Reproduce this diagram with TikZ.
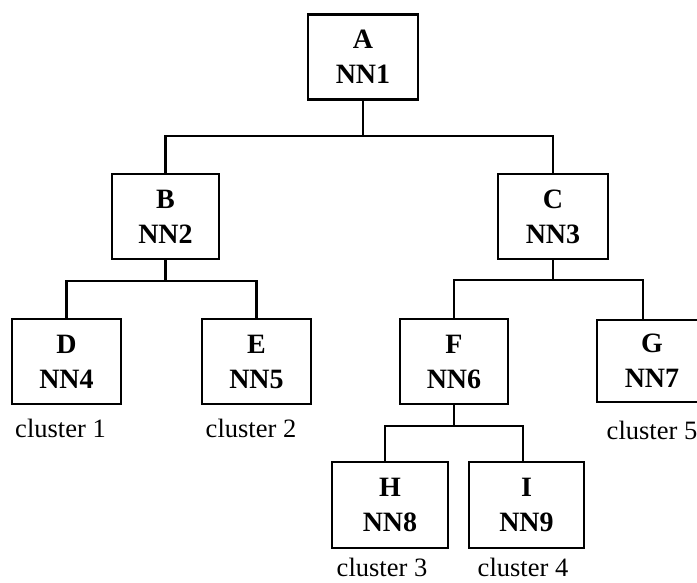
\documentclass[tikz,border=0pt]{standalone}
\usepackage{fontspec}
\setmainfont{Liberation Serif}
\begin{document}
\begin{tikzpicture}[x=1pt,y=1pt,
  nnbox/.style={draw=black, line width=2.4pt, minimum height=85pt, align=center,
    font=\bfseries\fontsize{28}{35}\selectfont, inner sep=0pt},
  clab/.style={font=\fontsize{26.5}{30}\selectfont, inner sep=0pt},
  conn/.style={line width=2.4pt}]
\clip (0,0) rectangle (697,583);
\fill[white] (0,0) rectangle (697,583);
% boxes (y = 583 - image y)
\node[nnbox, minimum width=110pt] (A) at (363,526) {A\\NN1};
\node[nnbox, minimum width=107pt] (B) at (165.5,366.5) {B\\NN2};
\node[nnbox, minimum width=110pt] (C) at (553,366.5) {C\\NN3};
\node[nnbox, minimum width=109pt] (D) at (66.5,221.5) {D\\NN4};
\node[nnbox, minimum width=109pt] (E) at (256.5,221.5) {E\\NN5};
\node[nnbox, minimum width=108pt] (F) at (454,221.5) {F\\NN6};
\node[nnbox, minimum width=110pt, minimum height=82pt] (G) at (652,222) {G\\NN7};
\node[nnbox, minimum width=116pt, minimum height=86pt] (H) at (390,78) {H\\NN8};
\node[nnbox, minimum width=115pt, minimum height=86pt] (I) at (526.5,78) {I\\NN9};
% cluster labels
\node[clab] (c1) at (60.5,155) {cluster 1};
\node[clab] (c2) at (251,155) {cluster 2};
\node[clab] (c5) at (652,153) {cluster 5};
\node[clab] (c3) at (382,15.5) {cluster 3};
\node[clab] (c4) at (523,15.5) {cluster 4};
% bar coordinates
\coordinate (barA) at (0,447);
\coordinate (barB) at (0,302);
\coordinate (barC) at (0,303);
\coordinate (barF) at (0,157);
% connectors
\draw[conn] (A.south) -- (A.south |- barA);
\draw[conn] (B.north) -- (B.north |- barA) -- (C.north |- barA) -- (C.north);
\draw[conn] (B.south) -- (B.south |- barB);
\draw[conn] (D.north) -- (D.north |- barB) -- (E.north |- barB) -- (E.north);
\draw[conn] (C.south) -- (C.south |- barC);
\draw[conn] (F.north) -- (F.north |- barC) -- ([xshift=-9pt]G.north |- barC) -- ([xshift=-9pt]G.north);
\draw[conn] (F.south) -- (F.south |- barF);
\draw[conn] ([xshift=-5pt]H.north) -- ([xshift=-5pt]H.north |- barF) -- ([xshift=-3.5pt]I.north |- barF) -- ([xshift=-3.5pt]I.north);
\end{tikzpicture}
\end{document}
